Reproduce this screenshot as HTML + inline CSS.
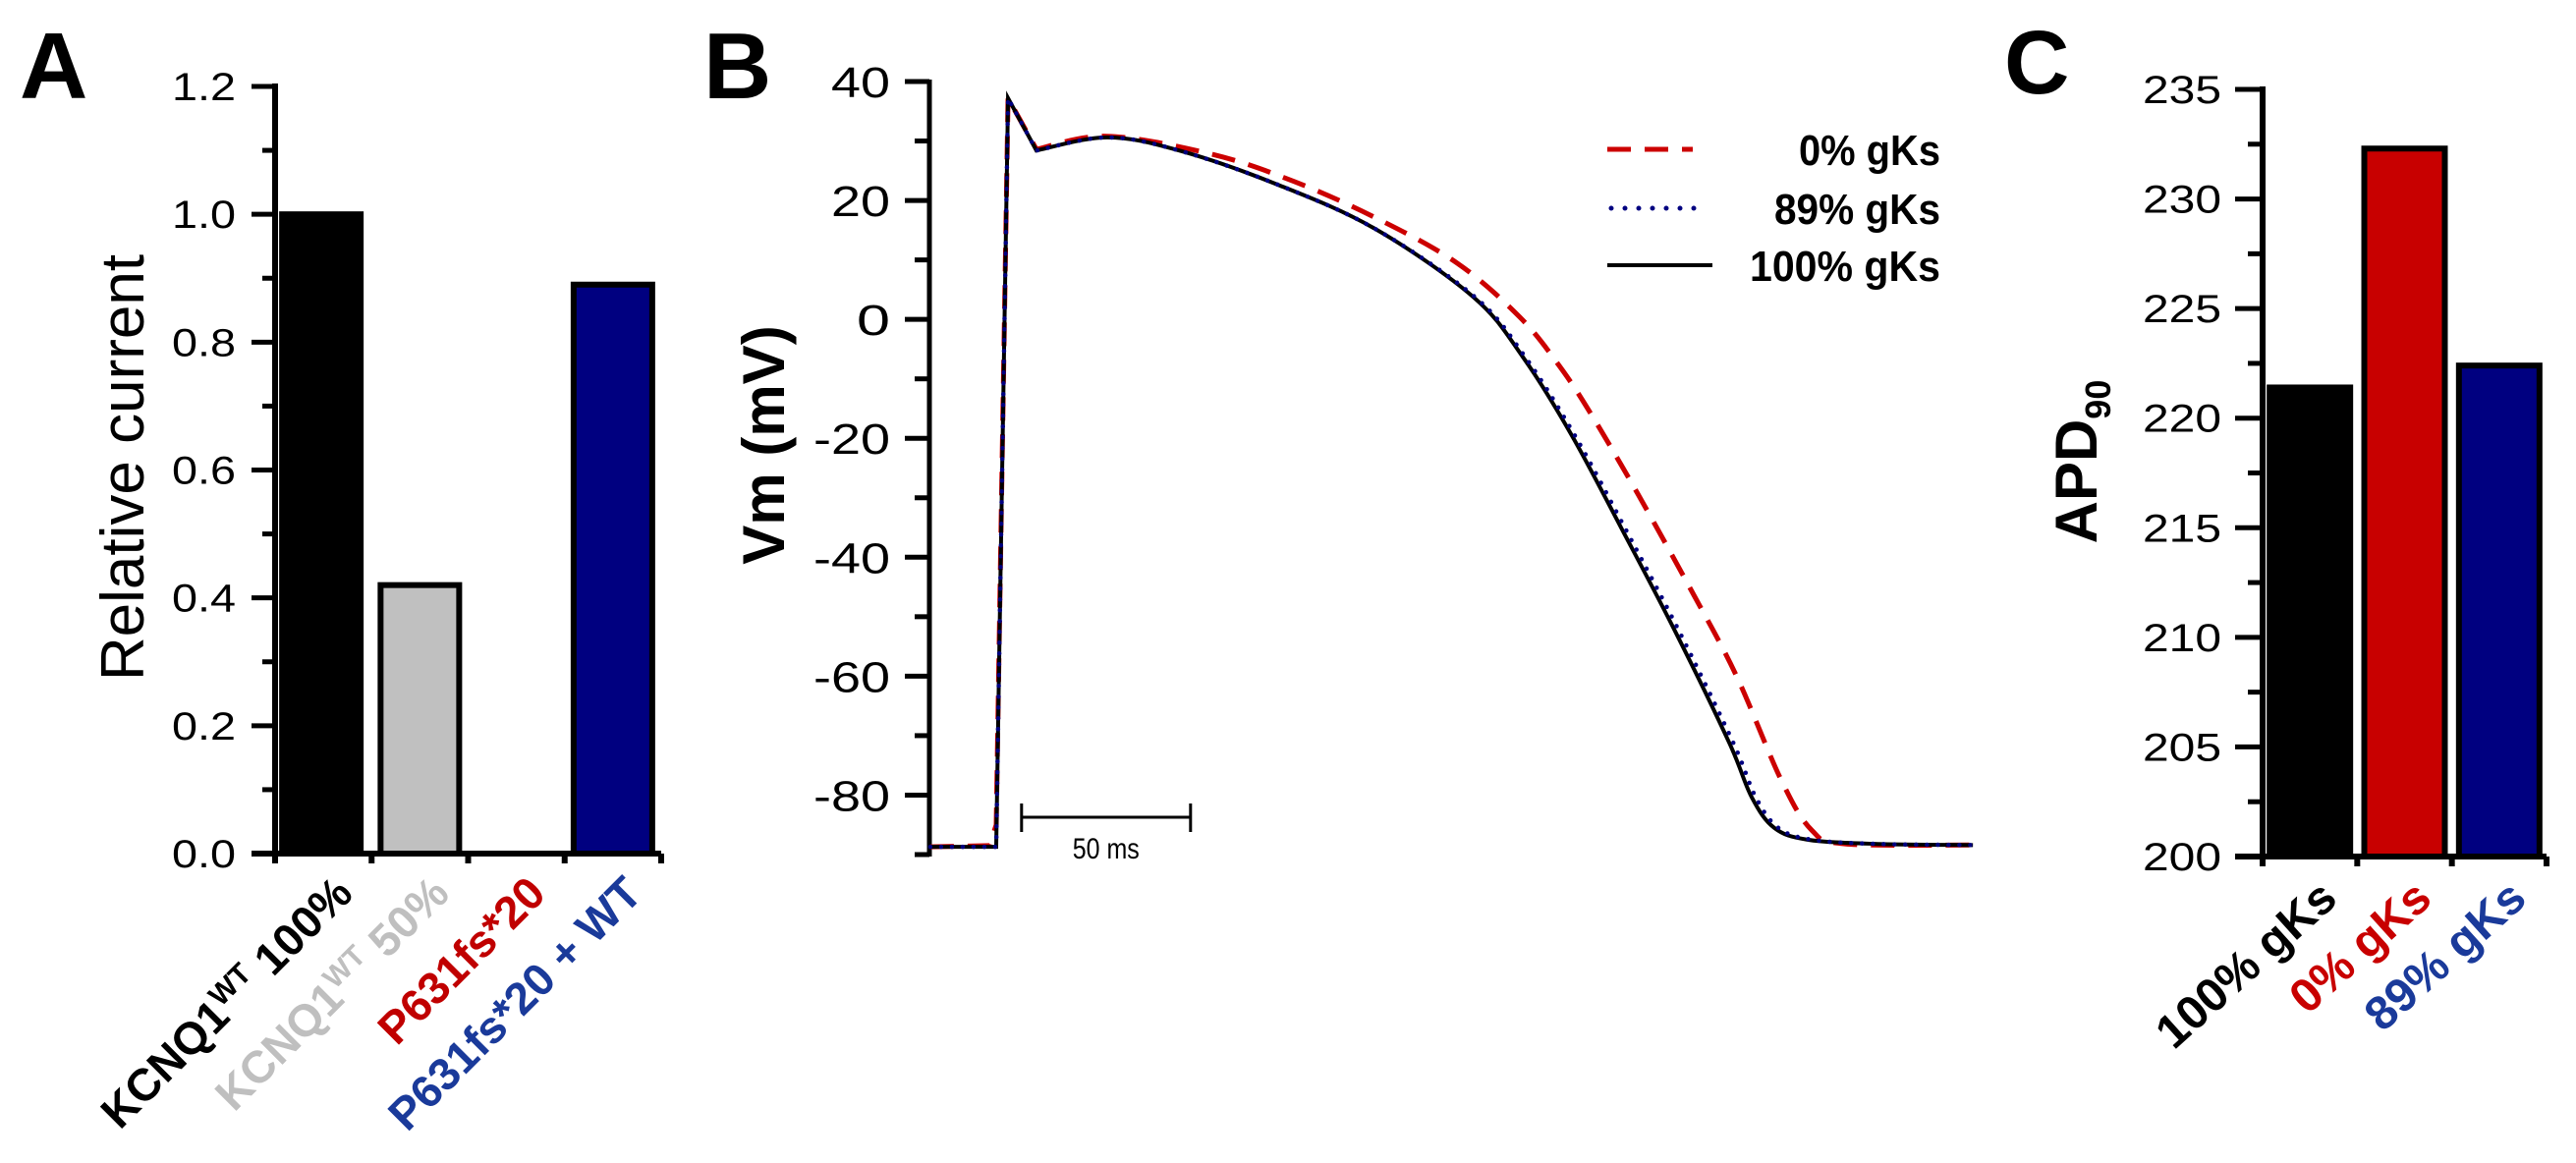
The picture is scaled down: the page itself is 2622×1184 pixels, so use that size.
<!DOCTYPE html>
<html><head><meta charset="utf-8"><style>
html,body{margin:0;padding:0;background:#fff;}
svg{display:block;font-family:"Liberation Sans",Arial,sans-serif;}
</style></head><body>
<svg id="fig" width="2622" height="1184" viewBox="0 0 2622 1184">
<text x="20" y="100" font-size="96" font-weight="bold">A</text>
<text x="716" y="100" font-size="96" font-weight="bold">B</text>
<text x="2040" y="95" font-size="92" font-weight="bold">C</text>
<g id="pa"></g>
<g id="pb"></g>
<g id="pc"></g>
</svg>
<script>
// ---- Panel A data ----
const aCategories = ["KCNQ1WT 100%", "KCNQ1WT 50%", "P631fs*20", "P631fs*20 + WT"];
const aValues = [1.0, 0.42, 0.0, 0.89];
const aTicks = ["0.0","0.2","0.4","0.6","0.8","1.0","1.2"];
// ---- Panel B data ----
const bTicks = ["-80","-60","-40","-20","0","20","40"];
const bLegend = ["0% gKs","89% gKs","100% gKs"];
const t100 = [-19.5,0,3.5,11.9,32.8,54.1,83.1,112.2,141.3,155.8,170.3,185.8,201.2,216.9,223.5,230.2,240.1,260,289];
const v100 = [-88.7,-88.7,37.2,28.4,30.6,28.4,22.7,15.2,3.7,-6.3,-19.5,-36.0,-52.8,-71.2,-80.3,-85.5,-87.5,-88.2,-88.4];
const t89 = [-19.5,0,3.5,11.9,32.8,54.1,83.1,112.2,141.8,156.5,171.2,186.9,202.4,218.1,224.7,231.4,241.3,260,289];
const v89 = [-88.7,-88.7,37.2,28.4,30.6,28.4,22.7,15.2,3.7,-6.3,-19.5,-36.0,-52.8,-71.2,-80.3,-85.5,-87.5,-88.2,-88.4];
const t0 = [-19.5,-2,0,3.5,11.9,32.8,63.7,88.1,112.2,136.3,154.9,166.6,176.2,189.8,205.5,218.9,232.3,241.3,251.2,289];
const v0 = [-88.7,-88.5,-85,37.2,28.6,30.8,27.8,23.2,17.1,9.5,0.4,-7.8,-16.1,-29.3,-45.4,-59.8,-77.5,-85.9,-88.2,-88.4];
// ---- Panel C data ----
const cCategories = ["100% gKs","0% gKs","89% gKs"];
const cValues = [221.4, 232.3, 222.4];
const cTicks = ["200","205","210","215","220","225","230","235"];

const NS="http://www.w3.org/2000/svg";
function mk(parent,tag,attrs,text){const e=document.createElementNS(NS,tag);for(const k in attrs)e.setAttribute(k,attrs[k]);if(text!==undefined)e.textContent=text;parent.appendChild(e);return e;}

// ===== Panel A =====
const pa=document.getElementById('pa');
const aX0=280,aX1=673,aY0=869,aY1=88,aMin=0,aMax=1.2;
const ay=v=>aY0-(v-aMin)/(aMax-aMin)*(aY0-aY1);
const aBand=(aX1-aX0)/aCategories.length;
const ax=i=>aX0+aBand*(i+0.5);
const aFill=["#000000","#c0c0c0","#c00000","#000080"];
const aText=["#000000","#bfbfbf","#c00000","#1a3a9a"];
aValues.forEach((v,i)=>{
  const w=80, top=ay(v);
  if(v>0){
    const r=mk(pa,'rect',{x:ax(i)-w/2+ (i==0?-2:0),y:top,width:w,height:aY0-top,fill:aFill[i],stroke:'#000','stroke-width':6});
    
    
  }
});
for(let k=0;k<=12;k++){
  const v=k*0.1,y=ay(v),maj=k%2==0;
  const l=mk(pa,'line',{x1:maj?256:267,x2:aX0,y1:y,y2:y,stroke:'#000','stroke-width':5});
  
  
}
aTicks.forEach((s,i)=>{
  const t=mk(pa,'text',{x:240,y:ay(parseFloat(s))+14,'font-size':40,'text-anchor':'end',textLength:65,lengthAdjust:'spacingAndGlyphs'},s);
  
  
});
mk(pa,'line',{x1:aX0,x2:aX0,y1:aY1-3,y2:aY0+3,stroke:'#000','stroke-width':6});
mk(pa,'line',{x1:256,x2:aX1,y1:aY0,y2:aY0,stroke:'#000','stroke-width':6});
for(let i=0;i<=aCategories.length;i++){mk(pa,'line',{x1:aX0+aBand*i,x2:aX0+aBand*i,y1:aY0,y2:aY0+10,stroke:'#000','stroke-width':6});}
const ayl=mk(pa,'text',{x:0,y:0,'font-size':62,'text-anchor':'middle',transform:'translate(146,476) rotate(-90)'},'Relative current');


aCategories.forEach((c,i)=>{
  const px=ax(i)+32,py=912;
  const t=mk(pa,'text',{x:0,y:0,'font-size':46,'font-weight':'bold','text-anchor':'end',fill:aText[i],transform:`translate(${px},${py}) rotate(-45)`});
  
  
  if(c.indexOf('WT ')===5){
    mk(t,'tspan',{},'KCNQ1');
    mk(t,'tspan',{'font-size':30,dy:-16},'WT');
    mk(t,'tspan',{dy:16},' '+c.slice(8));
  } else t.textContent=c;
});

// ===== Panel B =====
const pb=document.getElementById('pb');
const bX0=946,bYtop=83,bYbot=870,bVmin=-90,bVmax=40;
const by=v=>bYtop+(bVmax-v)/(bVmax-bVmin)*(bYbot-bYtop);
const bT0=1014,bPx=3.44;
const bx=t=>bT0+t*bPx;
for(let v=-90;v<=40;v+=10){
  const maj=(v%20===0);
  const l=mk(pb,'line',{x1:maj?921:931,x2:bX0,y1:by(v),y2:by(v),stroke:'#000','stroke-width':5});
  
  
}
bTicks.forEach(s=>{
  const t=mk(pb,'text',{x:906,y:by(parseFloat(s))+16,'font-size':44,'text-anchor':'end',textLength:s.length*26+(s[0]=='-'?0:8),lengthAdjust:'spacingAndGlyphs'},s);
  
  
});
mk(pb,'line',{x1:bX0,x2:bX0,y1:bYtop-2,y2:bYbot+2,stroke:'#000','stroke-width':5});
const byl=mk(pb,'text',{x:0,y:0,'font-size':60,'font-weight':'bold','text-anchor':'middle',transform:'translate(798,453) rotate(-90)'},'Vm (mV)');


function smoothPath(ts,vs){
  const p=ts.map((t,i)=>[bx(t),by(vs[i])]);
  let d=`M${p[0][0]},${p[0][1]}`;
  for(let i=0;i<p.length-1;i++){
    if(ts[i+1]<=12){d+=` L${p[i+1][0]},${p[i+1][1]}`;continue;}
    const p1=p[i],p2=p[i+1],p3=p[Math.min(p.length-1,i+2)];
    const p0=(ts[i]<=12)?p1:p[i-1];
    const c1=[p1[0]+(p2[0]-p0[0])/6,p1[1]+(p2[1]-p0[1])/6];
    const c2=[p2[0]-(p3[0]-p1[0])/6,p2[1]-(p3[1]-p1[1])/6];
    d+=` C${c1[0]},${c1[1]} ${c2[0]},${c2[1]} ${p2[0]},${p2[1]}`;
  }
  return d;
}
const r0=mk(pb,'path',{d:smoothPath(t0,v0),fill:'none',stroke:'#cc0000','stroke-width':5,'stroke-dasharray':'24 14'});


const r100=mk(pb,'path',{d:smoothPath(t100,v100),fill:'none',stroke:'#000','stroke-width':4});


const r89=mk(pb,'path',{d:smoothPath(t89,v89),fill:'none',stroke:'#000080','stroke-width':4.5,'stroke-dasharray':'0 11','stroke-linecap':'round'});


// scale bar
const sb=mk(pb,'g',{});


mk(sb,'line',{x1:bx(7.5),x2:bx(57.5),y1:832,y2:832,stroke:'#000','stroke-width':3});
mk(sb,'line',{x1:bx(7.5),x2:bx(7.5),y1:818,y2:847,stroke:'#000','stroke-width':3});
mk(sb,'line',{x1:bx(57.5),x2:bx(57.5),y1:818,y2:847,stroke:'#000','stroke-width':3});
mk(sb,'text',{x:bx(32.5),y:874,'font-size':30,'text-anchor':'middle',textLength:68,lengthAdjust:'spacingAndGlyphs'},'50 ms');
// legend
const lgY=[152,212,270];
bLegend.forEach((s,i)=>{
  const g=mk(pb,'g',{});
  
  
  if(i==0) mk(g,'line',{x1:1636,x2:1723,y1:lgY[i],y2:lgY[i],stroke:'#cc0000','stroke-width':5,'stroke-dasharray':'24 14'});
  if(i==1) mk(g,'line',{x1:1640,x2:1725,y1:lgY[i],y2:lgY[i],stroke:'#000080','stroke-width':5,'stroke-dasharray':'0 14','stroke-linecap':'round'});
  if(i==2) mk(g,'line',{x1:1636,x2:1743,y1:lgY[i],y2:lgY[i],stroke:'#000','stroke-width':4});
  mk(g,'text',{x:1975,y:lgY[i]+16,'font-size':44,'font-weight':'bold','text-anchor':'end',textLength:s.length*25-6,lengthAdjust:'spacingAndGlyphs'},s);
});

// ===== Panel C =====
const pc=document.getElementById('pc');
const cX0=2303,cX1=2592,cY0=872,cY1=91,cMin=200,cMax=235;
const cy=v=>cY0-(v-cMin)/(cMax-cMin)*(cY0-cY1);
const cBand=(cX1-cX0)/cCategories.length;
const cx=i=>cX0+cBand*(i+0.5);
const cFill=["#000000","#c80000","#000080"];
const cText=["#000000","#c80000","#1a3a9a"];
cValues.forEach((v,i)=>{
  const w=82,top=cy(v);
  const r=mk(pc,'rect',{x:cx(i)-w/2,y:top,width:w,height:cY0-top,fill:cFill[i],stroke:'#000','stroke-width':6});
  
  
});
for(let k=0;k<=14;k++){
  const v=200+k*2.5,maj=k%2==0;
  const l=mk(pc,'line',{x1:maj?2275:2288,x2:cX0,y1:cy(v),y2:cy(v),stroke:'#000','stroke-width':5});
  
  
}
cTicks.forEach(s=>{
  const t=mk(pc,'text',{x:2261,y:cy(parseFloat(s))+14,'font-size':40,'text-anchor':'end',textLength:80,lengthAdjust:'spacingAndGlyphs'},s);
  
  
});
mk(pc,'line',{x1:cX0,x2:cX0,y1:cY1-3,y2:cY0+3,stroke:'#000','stroke-width':6});
mk(pc,'line',{x1:2275,x2:cX1,y1:cY0,y2:cY0,stroke:'#000','stroke-width':6});
for(let i=0;i<=cCategories.length;i++){mk(pc,'line',{x1:cX0+cBand*i,x2:cX0+cBand*i,y1:cY0,y2:cY0+10,stroke:'#000','stroke-width':6});}
const cyl=mk(pc,'text',{x:0,y:0,'font-size':60,'font-weight':'bold','text-anchor':'middle',transform:'translate(2134,470) rotate(-90)'});


mk(cyl,'tspan',{},'APD');
mk(cyl,'tspan',{'font-size':36,dy:14},'90');
cCategories.forEach((c,i)=>{
  const t=mk(pc,'text',{x:0,y:0,'font-size':48,'font-weight':'bold','text-anchor':'end',fill:cText[i],transform:`translate(${cx(i)+30},${918}) rotate(-42)`},c);
  
  
});
</script>
</body></html>
